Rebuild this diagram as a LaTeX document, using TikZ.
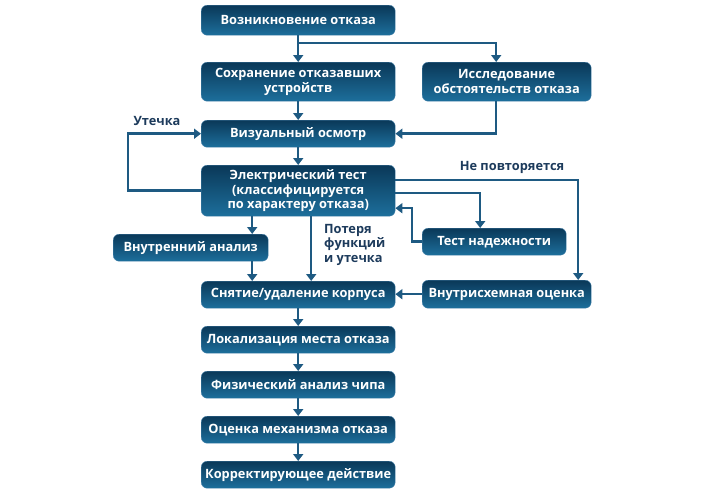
\documentclass[tikz,border=0pt]{standalone}
\usepackage{fontspec}
\setmainfont{Open Sans}
\usetikzlibrary{arrows.meta,calc}
\definecolor{boxtop}{HTML}{0A3858}
\definecolor{boxbot}{HTML}{1D6F9C}
\definecolor{boxedge}{HTML}{4A84AC}
\definecolor{linec}{HTML}{1E5A82}
\definecolor{labc}{HTML}{1D3B5C}
\tikzset{
  fbox/.style={rounded corners=6pt, top color=boxtop, bottom color=boxbot, draw=boxedge, line width=0.4pt,
    text=white, font=\bfseries\fontsize{12.8}{14.5}\selectfont, align=center, inner sep=0pt, anchor=north west},
  arr/.style={draw=linec, line width=2.5pt, -{Triangle[length=7pt,width=10pt]}},
  lab/.style={text=labc, font=\bfseries\fontsize{12.8}{14.5}\selectfont, inner sep=0pt}
}
\begin{document}
\begin{tikzpicture}[x=1pt,y=-1pt]
\useasboundingbox (0,0) rectangle (710,490);
\fill[white] (0,0) rectangle (710,490);
\node[fbox, minimum width=194pt, minimum height=30pt] (n1) at (201,5) {Возникновение отказа};
\node[fbox, minimum width=194pt, minimum height=39pt] (n2) at (201,62) {Сохранение отказавших\\устройств};
\node[fbox, minimum width=169pt, minimum height=39pt] (n3) at (422,62) {Исследование\\обстоятельств отказа};
\node[fbox, minimum width=194pt, minimum height=27pt] (n4) at (201,120) {Визуальный осмотр};
\node[fbox, minimum width=194pt, minimum height=51pt] (n5) at (201,165) {Электрический тест\\(классифицируется\\по характеру отказа)};
\node[fbox, minimum width=144pt, minimum height=27pt] (n6) at (422,228) {Тест надежности};
\node[fbox, minimum width=155pt, minimum height=27pt] (n7) at (113,234) {Внутренний анализ};
\node[fbox, minimum width=194pt, minimum height=27pt] (n8) at (201,281) {Снятие/удаление корпуса};
\node[fbox, minimum width=169pt, minimum height=28pt] (n9) at (422,280) {Внутрисхемная оценка};
\node[fbox, minimum width=194pt, minimum height=27pt] (n10) at (201,326) {Локализация места отказа};
\node[fbox, minimum width=194pt, minimum height=27pt] (n11) at (201,371) {Физический анализ чипа};
\node[fbox, minimum width=194pt, minimum height=27pt] (n12) at (201,416) {Оценка механизма отказа};
\node[fbox, minimum width=194pt, minimum height=27pt] (n13) at (201,461) {Корректирующее действие};

\node[lab] (lleak) at (157,121) {Утечка};
\node[lab] (lnorep) at (512,167) {Не повторяется};
\node[lab, anchor=north west, align=left] (lloss) at (324,224) {Потеря\\функций\\и утечка};

\coordinate (j1) at (298,43);
\draw[arr] (n1.south) -- (n2.north);
\draw[arr] (j1) -| ([xshift=-10.5pt]n3.north);
\draw[arr] (n2.south) -- (n4.north);
\draw[arr] ([xshift=-10.5pt]n3.south) |- (n4.east);
\draw[arr] (n4.south) -- (n5.north);
\draw[arr] (n5.west) -- ++(-73,0) |- (n4.west);
\draw[arr] ([yshift=10.5pt]n5.east) -| ([xshift=71.5pt]n9.north);
\draw[arr] ([yshift=-2.5pt]n5.east) -| ([xshift=-14pt]n6.north);
\draw[arr] (n6.west) -- ++(-10,0) |- ([yshift=-17.5pt]n5.east);
\draw[arr] ([xshift=-46pt]n5.south) -- ([xshift=-46pt]n5.south |- n7.north);
\draw[arr] ([xshift=61.5pt]n7.south) -- ([xshift=61.5pt]n7.south |- n8.north);
\draw[arr] ([xshift=13pt]n5.south) -- ([xshift=13pt]n5.south |- n8.north);
\draw[arr] (n9.west) -- (n9.west -| n8.east);
\draw[arr] (n8.south) -- (n10.north);
\draw[arr] (n10.south) -- (n11.north);
\draw[arr] (n11.south) -- (n12.north);
\draw[arr] (n12.south) -- (n13.north);
\end{tikzpicture}
\end{document}
